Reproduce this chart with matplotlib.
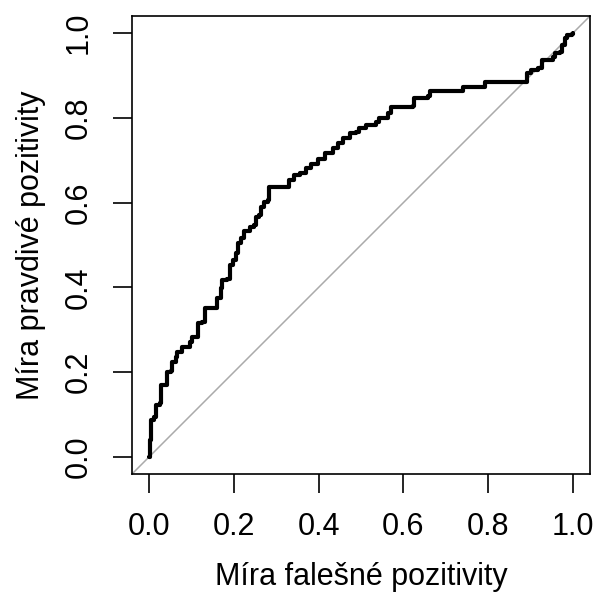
import matplotlib
matplotlib.use('Agg')
from matplotlib import pyplot as plt

# ROC curve points
fpr = [0.000, 0.002, 0.004, 0.012, 0.016, 0.025, 0.029, 0.039, 0.042, 0.053,
       0.055, 0.063, 0.067, 0.079, 0.093, 0.096, 0.102, 0.114, 0.116, 0.126,
       0.132, 0.156, 0.161, 0.169, 0.173, 0.185, 0.191, 0.199, 0.206, 0.210,
       0.217, 0.223, 0.236, 0.239, 0.248, 0.252, 0.260, 0.264, 0.272, 0.280,
       0.284, 0.319, 0.331, 0.343, 0.355, 0.362, 0.370, 0.382, 0.390, 0.398,
       0.414, 0.433, 0.445, 0.457, 0.473, 0.489, 0.495, 0.512, 0.536, 0.542,
       0.561, 0.563, 0.571, 0.623, 0.626, 0.658, 0.662, 0.737, 0.741, 0.788,
       0.792, 0.887, 0.892, 0.902, 0.918, 0.926, 0.953, 0.957, 0.969, 0.973,
       0.981, 0.985, 0.997, 1.000]
tpr = [0.000, 0.040, 0.087, 0.095, 0.123, 0.127, 0.170, 0.170, 0.201, 0.204,
       0.225, 0.237, 0.248, 0.260, 0.260, 0.272, 0.284, 0.284, 0.315, 0.319,
       0.351, 0.351, 0.374, 0.398, 0.417, 0.421, 0.453, 0.465, 0.480, 0.504,
       0.516, 0.534, 0.534, 0.543, 0.547, 0.567, 0.571, 0.590, 0.602, 0.605,
       0.637, 0.637, 0.653, 0.665, 0.669, 0.669, 0.681, 0.690, 0.691, 0.702,
       0.716, 0.728, 0.740, 0.752, 0.763, 0.767, 0.775, 0.783, 0.791, 0.799,
       0.799, 0.811, 0.826, 0.828, 0.846, 0.851, 0.862, 0.862, 0.872, 0.873,
       0.885, 0.885, 0.905, 0.913, 0.917, 0.936, 0.944, 0.953, 0.956, 0.972,
       0.987, 0.995, 0.998, 1.000]

ticks = [0.0, 0.2, 0.4, 0.6, 0.8, 1.0]
tick_labels = ['0.0', '0.2', '0.4', '0.6', '0.8', '1.0']

plt.rcParams['font.family'] = ['Liberation Sans', 'DejaVu Sans']

fig = plt.figure(figsize=(5.95, 5.96), dpi=100)
W, H = 595, 596
ax = fig.add_axes([132 / W, 1 - 474 / H, (590 - 132) / W, (474 - 16) / H])

ax.plot([-0.04, 1.04], [-0.04, 1.04], color='#AAAAAA', lw=1.1, zorder=1)
ax.plot(fpr, tpr, color='black', lw=3.0, drawstyle='steps-post',
        solid_joinstyle='round', solid_capstyle='round', zorder=2)

ax.set_xlim(-0.04, 1.04)
ax.set_ylim(-0.04, 1.04)

for s in ax.spines.values():
    s.set_linewidth(1.2)

ax.set_xticks(ticks)
ax.set_xticklabels(tick_labels)
ax.set_yticks(ticks)
ax.set_yticklabels(tick_labels, rotation=90, va='center')
ax.tick_params(axis='both', length=13.5, width=1.2, labelsize=22)
ax.tick_params(axis='x', pad=14)
ax.tick_params(axis='y', pad=14)

ax.set_xlabel('Míra falešné pozitivity', fontsize=22, labelpad=14)
ax.set_ylabel('Míra pravdivé pozitivity', fontsize=22, labelpad=13)

fig.savefig('out.png', dpi=100)
